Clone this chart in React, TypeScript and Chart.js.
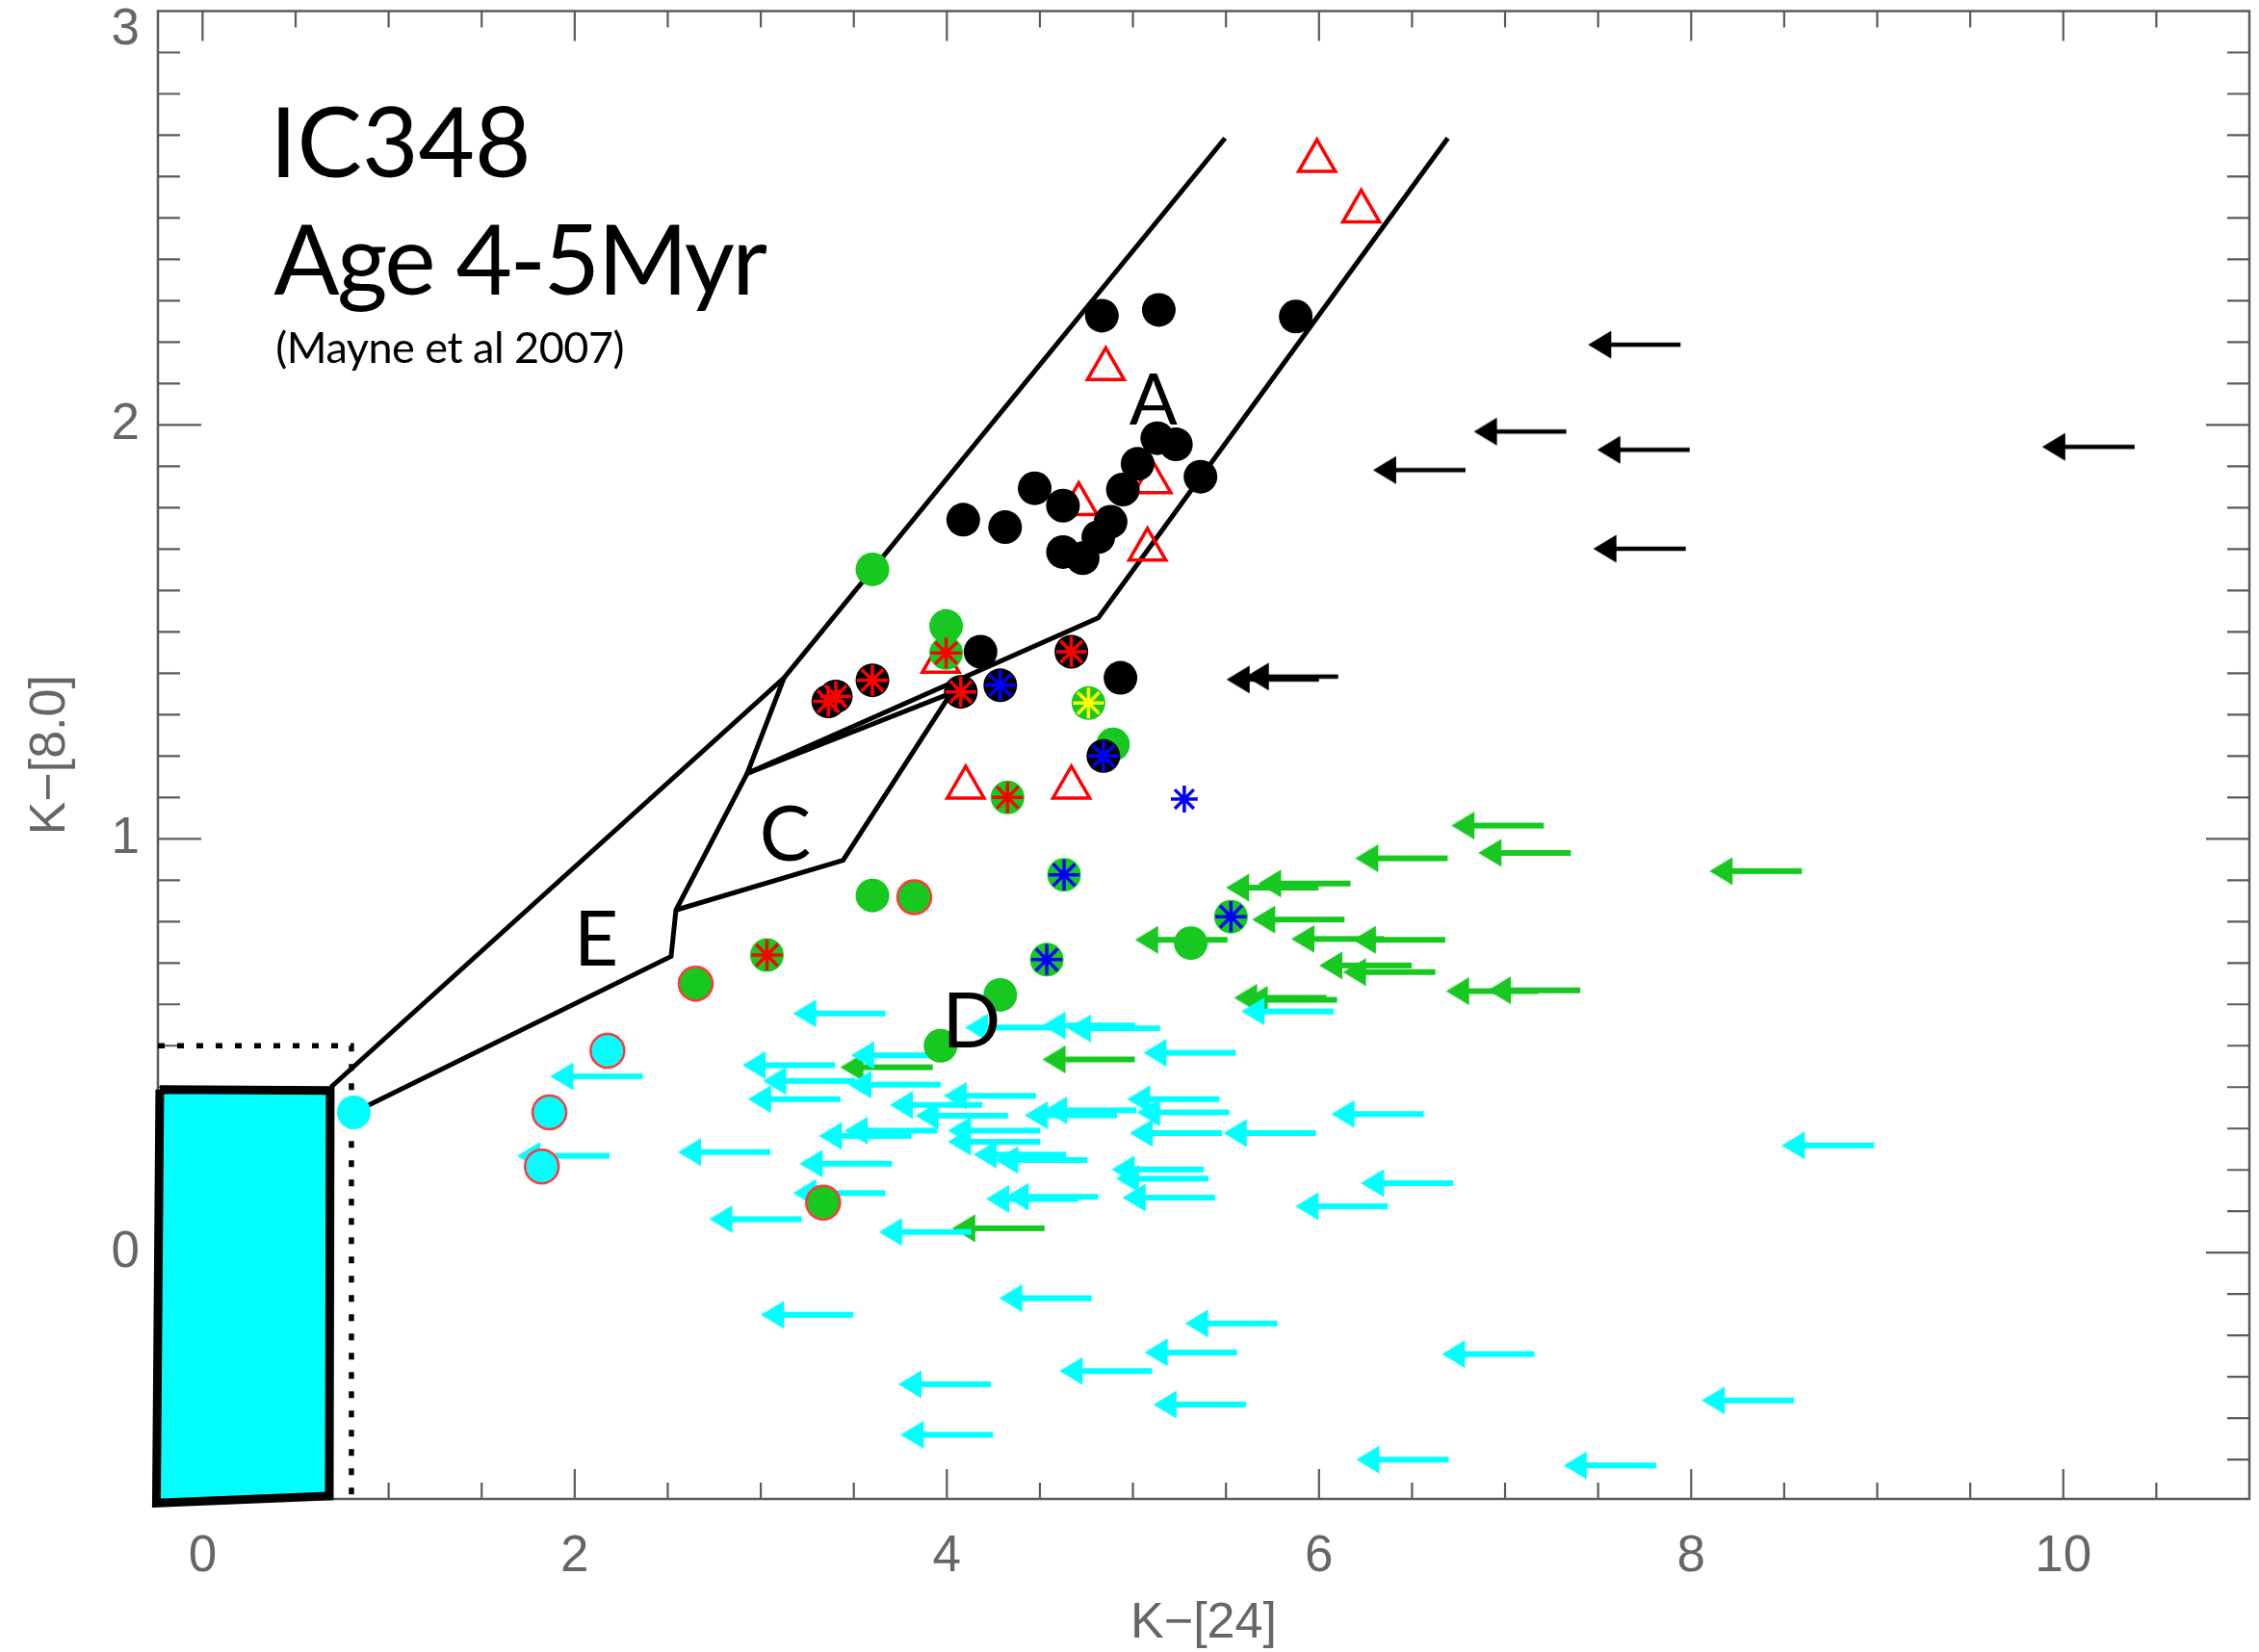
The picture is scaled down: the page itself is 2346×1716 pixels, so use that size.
import React, { useEffect, useRef } from 'react';
import { Chart, registerables } from 'chart.js';

Chart.register(...registerables);

type Pt = [number, number];

// ---------------- axes ----------------
const xTickLabels = [0, 2, 4, 6, 8, 10];
const yTickLabels = [0, 1, 2, 3];
const xRange: Pt = [-0.24, 11];
const yRange: Pt = [-0.595, 3];
const xTitle = 'K\u2212[24]';
const yTitle = 'K\u2212[8.0]';

// ---------------- region boundary lines ----------------
const bandLeftLine: Pt[] = [[0.69, 0.40], [3.125, 1.389], [5.495, 2.693]];
const bandRightLine: Pt[] = [[6.692, 2.693], [4.814, 1.534], [2.927, 1.158], [3.125, 1.389]];
const regionELine: Pt[] = [[0.813, 0.339], [2.518, 0.716], [2.544, 0.828], [2.927, 1.158]];
const regionCLine: Pt[] = [[2.927, 1.158], [4.023, 1.352], [3.442, 0.948], [2.544, 0.828]];
const photosphereBox: Pt[] = [[-0.230, 0.394], [0.686, 0.392], [0.681, -0.588], [-0.248, -0.605], [-0.230, 0.394]];
const photosphereLimit: Pt[] = [[-0.24, 0.5], [0.80, 0.5], [0.80, -0.595]];

// ---------------- detections ----------------
const blackCircles: Pt[] = [
  [4.833, 2.264], [5.139, 2.278], [5.875, 2.262],
  [4.472, 1.847], [4.624, 1.805], [4.088, 1.771], [4.313, 1.753],
  [5.131, 1.968], [5.231, 1.953], [5.025, 1.906], [5.363, 1.875],
  [4.946, 1.844], [4.880, 1.766], [4.814, 1.729], [4.624, 1.693], [4.730, 1.678],
  [4.181, 1.452], [4.933, 1.389],
];
const redStarOnBlack: Pt[] = [[3.363, 1.332], [3.403, 1.344], [3.600, 1.383], [4.075, 1.355], [4.669, 1.452]];
const blueStarOnBlack: Pt[] = [[4.287, 1.371], [4.841, 1.200]];
const greenCircles: Pt[] = [[3.600, 1.651], [3.996, 1.514], [4.893, 1.228], [3.600, 0.863], [4.287, 0.623], [3.966, 0.500], [5.311, 0.748]];
const greenCirclesRedRim: Pt[] = [[3.825, 0.859], [2.650, 0.650], [3.335, 0.121]];
const redStarOnGreen: Pt[] = [[3.996, 1.449], [4.326, 1.100], [3.033, 0.719]];
const blueStarOnGreen: Pt[] = [[4.630, 0.913], [5.527, 0.812], [4.537, 0.708]];
const yellowStarOnGreen: Pt[] = [[4.761, 1.328]];
const blueStars: Pt[] = [[5.276, 1.096]];
const cyanCirclesRedRim: Pt[] = [[2.176, 0.488], [1.864, 0.339], [1.823, 0.208]];
const cyanDot: Pt[] = [[0.813, 0.339]];
const redTriangles: Pt[] = [
  [5.989, 2.638], [6.227, 2.516], [4.854, 2.135], [4.709, 1.809], [5.105, 1.862],
  [5.078, 1.699], [3.967, 1.428], [4.101, 1.124], [4.669, 1.124],
];

// ---------------- upper limits (arrow tail = value) ----------------
const blackLimits: Pt[] = [
  [7.943, 2.194], [7.329, 1.984], [7.992, 1.940], [6.787, 1.891], [7.971, 1.701],
  [10.383, 1.947], [6.000, 1.385], [6.103, 1.392],
];
const greenLimits: Pt[] = [
  [7.208, 1.032], [6.691, 0.953], [7.353, 0.966], [8.595, 0.922], [6.169, 0.892],
  [5.997, 0.882], [6.137, 0.805], [5.508, 0.756], [6.348, 0.758], [6.678, 0.756],
  [6.498, 0.694], [6.625, 0.678], [7.179, 0.632], [7.404, 0.634], [6.097, 0.611],
  [6.040, 0.616], [3.924, 0.448], [5.010, 0.467], [4.525, 0.059],
];
const cyanLimits: Pt[] = [
  [3.670, 0.578], [2.365, 0.426], [2.187, 0.234], [3.051, 0.243], [3.398, 0.453],
  [3.509, 0.415], [3.966, 0.406], [3.428, 0.371], [3.982, 0.477], [4.190, 0.357],
  [4.479, 0.379], [3.809, 0.282], [3.947, 0.295], [3.705, 0.215], [3.670, 0.144],
  [3.220, 0.081], [4.132, 0.050], [3.497, -0.150], [4.778, -0.110], [4.236, -0.318],
  [4.248, -0.440], [5.102, -0.286], [4.594, 0.544], [5.010, 0.549], [5.146, 0.542],
  [4.502, 0.268], [4.640, 0.237], [4.756, 0.224], [4.813, 0.135], [4.707, 0.130],
  [4.328, 0.331], [4.502, 0.295],
  [6.079, 0.583], [5.553, 0.483], [5.465, 0.371], [5.518, 0.339], [5.019, 0.344],
  [4.914, 0.332], [5.479, 0.289], [5.984, 0.289], [6.563, 0.335], [8.983, 0.259],
  [5.381, 0.201], [5.405, 0.179], [5.441, 0.133], [6.721, 0.168], [6.370, 0.112],
  [5.776, -0.171], [5.559, -0.241], [5.607, -0.367], [7.157, -0.245], [8.553, -0.357],
  [6.697, -0.500], [7.811, -0.514],
];

// ---------------- annotations ----------------
const titleLines = [
  { text: 'IC348', x: 0.361, y: 2.599, size: 101, spacing: 0 },
  { text: 'Age 4-5Myr', x: 0.382, y: 2.315, size: 101, spacing: -2.5 },
  { text: '(Mayne et al 2007)', x: 0.393, y: 2.150, size: 45, spacing: -0.5 },
];
const regionLabels = [
  { text: 'A', x: 5.11, y: 2.0, size: 74 },
  { text: 'C', x: 3.131, y: 0.947, size: 80 },
  { text: 'E', x: 2.115, y: 0.693, size: 80 },
  { text: 'D', x: 4.132, y: 0.495, size: 80 },
];

const GREEN = 'rgb(22,200,32)';
const CYAN = '#00FFFF';
const RED = '#FF0000';
const BLUE = '#0000FF';
const YELLOW = '#FFFF00';
const AXIS = '#5a5a5a';
const LABEL = '#666666';

const toXY = (arr: Pt[]) => arr.map(([x, y]) => ({ x, y }));

function makeArrow(color: string, shaft: number): HTMLCanvasElement {
  const L = 96, headLen = 24, headHalf = 14.5;
  const c = document.createElement('canvas');
  c.width = 2 * L + 8;
  c.height = 34;
  const g = c.getContext('2d')!;
  const cx = c.width / 2, cy = c.height / 2;
  g.fillStyle = color;
  g.fillRect(cx - L + headLen - 1, cy - shaft / 2, L - headLen + 1, shaft);
  g.beginPath();
  g.moveTo(cx - L, cy);
  g.lineTo(cx - L + headLen, cy - headHalf);
  g.lineTo(cx - L + headLen, cy + headHalf);
  g.closePath();
  g.fill();
  return c;
}

function lineSet(label: string, data: Pt[], order: number, extra: any = {}) {
  return {
    label, data: toXY(data), showLine: true, fill: false, tension: 0, order,
    borderColor: '#000', borderWidth: 5, pointRadius: 0, pointHoverRadius: 0,
    ...extra,
  };
}

function pointSet(label: string, data: Pt[], order: number, style: any) {
  return {
    label, data: toXY(data), showLine: false, order,
    pointStyle: style.pointStyle,
    pointRadius: style.radius,
    pointHoverRadius: style.radius,
    pointBackgroundColor: style.fill,
    pointBorderColor: style.stroke,
    pointBorderWidth: style.strokeWidth,
    backgroundColor: style.fill,
    borderColor: style.stroke,
  };
}

const framePlugin = {
  id: 'frame',
  beforeDatasetsDraw(chart: any) {
    const { ctx, chartArea: a } = chart;
    const xs = chart.scales.x, ys = chart.scales.y;
    ctx.save();
    ctx.strokeStyle = AXIS;
    ctx.lineWidth = 2.5;
    ctx.strokeRect(a.left, a.top, a.right - a.left, a.bottom - a.top);
    ctx.lineWidth = 2.2;
    ctx.beginPath();
    for (let i = 0; i <= 21; i++) {
      const v = i * 0.5;
      const px = xs.getPixelForValue(v);
      if (px <= a.left + 1 || px >= a.right - 1) continue;
      const major = i % 4 === 0;
      const len = major ? 31 : 17;
      ctx.moveTo(px, a.bottom); ctx.lineTo(px, a.bottom - len);
      ctx.moveTo(px, a.top); ctx.lineTo(px, a.top + len);
    }
    for (let i = -5; i <= 30; i++) {
      const v = i / 10;
      const py = ys.getPixelForValue(v);
      if (py <= a.top + 1 || py >= a.bottom - 1) continue;
      const major = i % 10 === 0;
      const len = major ? 45 : 23;
      ctx.moveTo(a.left, py); ctx.lineTo(a.left + len, py);
      ctx.moveTo(a.right, py); ctx.lineTo(a.right - len, py);
    }
    ctx.stroke();
    ctx.restore();
  },
  afterDatasetsDraw(chart: any) {
    const { ctx } = chart;
    const xs = chart.scales.x, ys = chart.scales.y;
    ctx.save();
    ctx.fillStyle = '#000';
    ctx.textBaseline = 'alphabetic';
    ctx.textAlign = 'left';
    for (const t of titleLines) {
      ctx.font = `${t.size}px Lato`;
      (ctx as any).letterSpacing = `${t.spacing}px`;
      ctx.fillText(t.text, xs.getPixelForValue(t.x), ys.getPixelForValue(t.y));
    }
    (ctx as any).letterSpacing = '0px';
    ctx.textAlign = 'center';
    for (const t of regionLabels) {
      ctx.font = `${t.size}px Lato`;
      ctx.fillText(t.text, xs.getPixelForValue(t.x), ys.getPixelForValue(t.y));
    }
    ctx.restore();
  },
};

export default function App() {
  const ref = useRef<HTMLCanvasElement>(null);
  useEffect(() => {
    const canvas = ref.current!;
    const arrowBlack = makeArrow('#000000', 4.5);
    const arrowGreen = makeArrow(GREEN, 6);
    const arrowCyan = makeArrow(CYAN, 6);

    const circle = (fill: string, stroke: string, w: number) => ({ pointStyle: 'circle', radius: 17.5, fill, stroke, strokeWidth: w });
    const star = (color: string, r = 16) => ({ pointStyle: 'star', radius: r, fill: color, stroke: color, strokeWidth: 3.5 });
    const arrow = (img: HTMLCanvasElement) => ({ pointStyle: img, radius: 8, fill: '#000', stroke: '#000', strokeWidth: 0 });

    const datasets: any[] = [
      lineSet('photosphere box', photosphereBox, 110, { fill: 'shape', backgroundColor: CYAN, borderWidth: 9, clip: false, borderJoinStyle: 'miter' }),
      lineSet('photosphere limit', photosphereLimit, 105, { borderWidth: 5.5, borderDash: [7, 13] }),
      lineSet('band left', bandLeftLine, 100),
      lineSet('band right', bandRightLine, 100),
      lineSet('region E', regionELine, 100),
      lineSet('region C', regionCLine, 100),
      pointSet('green limits', greenLimits, 60, arrow(arrowGreen)),
      pointSet('cyan limits', cyanLimits, 55, arrow(arrowCyan)),
      pointSet('black limits', blackLimits, 50, arrow(arrowBlack)),
      pointSet('red triangles', redTriangles, 45, { pointStyle: 'triangle', radius: 22, fill: 'rgba(0,0,0,0)', stroke: RED, strokeWidth: 3.5 }),
      pointSet('green circles', greenCircles, 32, circle(GREEN, GREEN, 0)),
      pointSet('green circles red rim', greenCirclesRedRim, 32, circle(GREEN, '#ff3a3a', 2.5)),
      pointSet('green under red star', redStarOnGreen, 32, circle(GREEN, GREEN, 0)),
      pointSet('green under blue star', blueStarOnGreen, 32, circle(GREEN, GREEN, 0)),
      pointSet('green under yellow star', yellowStarOnGreen, 32, circle(GREEN, GREEN, 0)),
      pointSet('cyan circles red rim', cyanCirclesRedRim, 32, circle(CYAN, '#ff3a3a', 2.5)),
      pointSet('cyan dot', cyanDot, 32, circle(CYAN, CYAN, 0)),
      pointSet('black circles', blackCircles, 30, circle('#000', '#000', 0)),
      pointSet('black under red star', redStarOnBlack, 30, circle('#000', '#000', 0)),
      pointSet('black under blue star', blueStarOnBlack, 30, circle('#000', '#000', 0)),
      pointSet('red stars on black', redStarOnBlack, 20, star(RED)),
      pointSet('blue stars on black', blueStarOnBlack, 20, star(BLUE)),
      pointSet('red stars on green', redStarOnGreen, 20, star(RED)),
      pointSet('blue stars on green', blueStarOnGreen, 20, star(BLUE)),
      pointSet('yellow stars on green', yellowStarOnGreen, 20, star(YELLOW)),
      pointSet('blue stars', blueStars, 20, star(BLUE, 14)),
    ];

    const tickFont = { family: 'Liberation Sans', size: 53 };
    const chart = new Chart(canvas, {
      type: 'scatter',
      data: { datasets },
      options: {
        responsive: false,
        animation: false,
        events: [],
        layout: { autoPadding: false, padding: { top: 11.5, right: 10, bottom: 0, left: 0 } },
        plugins: { legend: { display: false }, tooltip: { enabled: false } },
        scales: {
          x: {
            type: 'linear', position: 'bottom', min: xRange[0], max: xRange[1],
            grid: { display: false, drawTicks: false },
            border: { display: false },
            ticks: { color: LABEL, font: tickFont, padding: 29, maxRotation: 0, autoSkip: false },
            afterBuildTicks: (s: any) => { s.ticks = xTickLabels.map((v) => ({ value: v })); },
            afterFit: (s: any) => { s.height = 159; s.paddingLeft = 0; s.paddingRight = 0; },
            title: { display: true, text: xTitle, color: LABEL, font: { family: 'Liberation Sans', size: 52, lineHeight: 1.0 }, padding: { top: 0, bottom: 3 } },
          },
          y: {
            type: 'linear', position: 'left', min: yRange[0], max: yRange[1],
            grid: { display: false, drawTicks: false },
            border: { display: false },
            ticks: {
              color: LABEL, font: { ...tickFont, lineHeight: 0.75 }, padding: 19, autoSkip: false,
              callback: (v: any) => (v === 3 ? ['', '3'] : String(v)),
            },
            afterBuildTicks: (s: any) => { s.ticks = yTickLabels.map((v) => ({ value: v })); },
            afterFit: (s: any) => { s.width = 164; s.paddingTop = 0; s.paddingBottom = 0; },
            title: { display: true, text: yTitle, color: LABEL, font: { family: 'Liberation Sans', size: 52 }, padding: { top: 21, bottom: 0 } },
          },
        },
      } as any,
      plugins: [framePlugin],
    });
    return () => chart.destroy();
  }, []);

  return (
    <div style={{ position: 'absolute', left: 0, top: 0, width: 2346, height: 1716, background: '#fff' }}>
      <canvas ref={ref} width={2346} height={1716} style={{ width: 2346, height: 1716, display: 'block' }} />
    </div>
  );
}
